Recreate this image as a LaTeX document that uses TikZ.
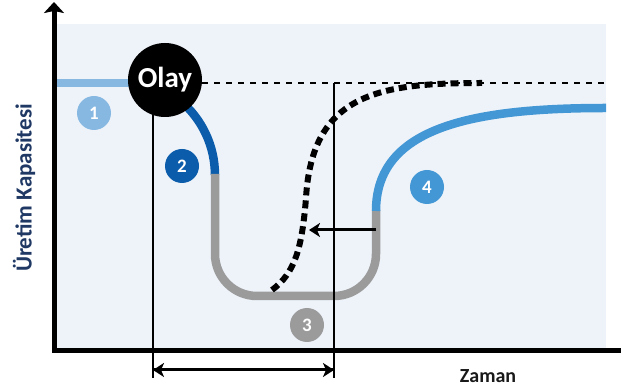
\documentclass[tikz,border=0pt]{standalone}
\usepackage{fontspec}
\setmainfont{Carlito}
\usetikzlibrary{positioning,calc,arrows.meta}
\definecolor{KapPanel}{HTML}{EEF3FA}
\definecolor{KapLight}{HTML}{86B8E2}
\definecolor{KapDark}{HTML}{0B5CAB}
\definecolor{KapMid}{HTML}{4497D5}
\definecolor{KapGray}{HTML}{9B9B9B}
\definecolor{KapNavy}{HTML}{1F3864}

\begin{document}
\begin{tikzpicture}[x=1pt,y=1pt,
    numdot/.style={circle,minimum size=34pt,inner sep=0pt,text=white,
      font=\fontsize{19}{19}\selectfont\bfseries},
    capline/.style={line width=8.5pt},
    tip/.style={-{Stealth[length=11pt,width=14pt,inset=3pt]}}]
        \useasboundingbox (0,0) rectangle (621,388);
        % Panel
        \fill[KapPanel] (57,39) rectangle (606,364);

        % Axes
        \draw[line width=5pt,-{Stealth[length=11pt,width=20pt,inset=2pt]}]
          (621,37) -- (54,37) -- (54,386);
        \node[rotate=90,text=KapNavy,font=\fontsize{23}{23}\selectfont\bfseries]
          (ylab) at (24,200) {Üretim Kapasitesi};
        \node[text=black!90,font=\fontsize{20}{20}\selectfont\bfseries]
          (xlab) at (488,12) {Zaman};

        % Named points
        \coordinate (lvlA) at (202,305);
        \coordinate (lvlB) at (606,305);
        \coordinate (evtTop) at (153,300);
        \coordinate (evtBot) at (153,10);
        \coordinate (recTop) at (334,305);
        \coordinate (recBot) at (334,10);
        \coordinate (spanA) at (153,18);
        \coordinate (spanB) at (334,18);
        \coordinate (shiftA) at (376,158);
        \coordinate (shiftB) at (309,158);

        % Pre-event level
        \draw[dash pattern=on 6pt off 6pt,line width=2.5pt] (lvlA) -- (lvlB);

        % Capacity curve
        \draw[capline,KapLight] (57,305) -- (140,305);
        \draw[capline,KapDark] (180.3,287.3) arc[start angle=50,end angle=0,radius=97];
        \draw[capline,KapGray,rounded corners=42pt]
          (215,214) -- (215,92) -- (376,92) -- (376,178);
        \draw[capline,KapMid] (376,177) .. controls (376,260) and (470,280) .. (606,280);

        % Faster recovery
        \draw[line width=6pt,dash pattern=on 8pt off 5pt]
          (272,98) .. controls (295,115) and (302,140) .. (306,190)
          .. controls (312,295) and (380,305) .. (482,305);

        % Time markers
        \draw[line width=2pt] (evtTop) -- (evtBot);
        \draw[line width=2pt] (recTop) -- (recBot);
        \draw[line width=3pt,tip] (spanB) -- (spanA);
        \draw[line width=3pt,tip] (spanA) -- (spanB);
        \draw[line width=3pt,tip] (shiftA) -- (shiftB);

        % Event
        \node[circle,fill=black,minimum size=74pt,inner sep=0pt,text=white,
          font=\fontsize{29}{29}\selectfont\bfseries] (olay) at (165,308) {Olay};

        % Phases
        \node[numdot,fill=KapLight] (n1) at (94,275) {1};
        \node[numdot,fill=KapDark] (n2) at (182,222) {2};
        \node[numdot,fill=KapGray] (n3) at (307,63) {3};
        \node[numdot,fill=KapMid] (n4) at (427,201) {4};
      \end{tikzpicture}
\end{document}
